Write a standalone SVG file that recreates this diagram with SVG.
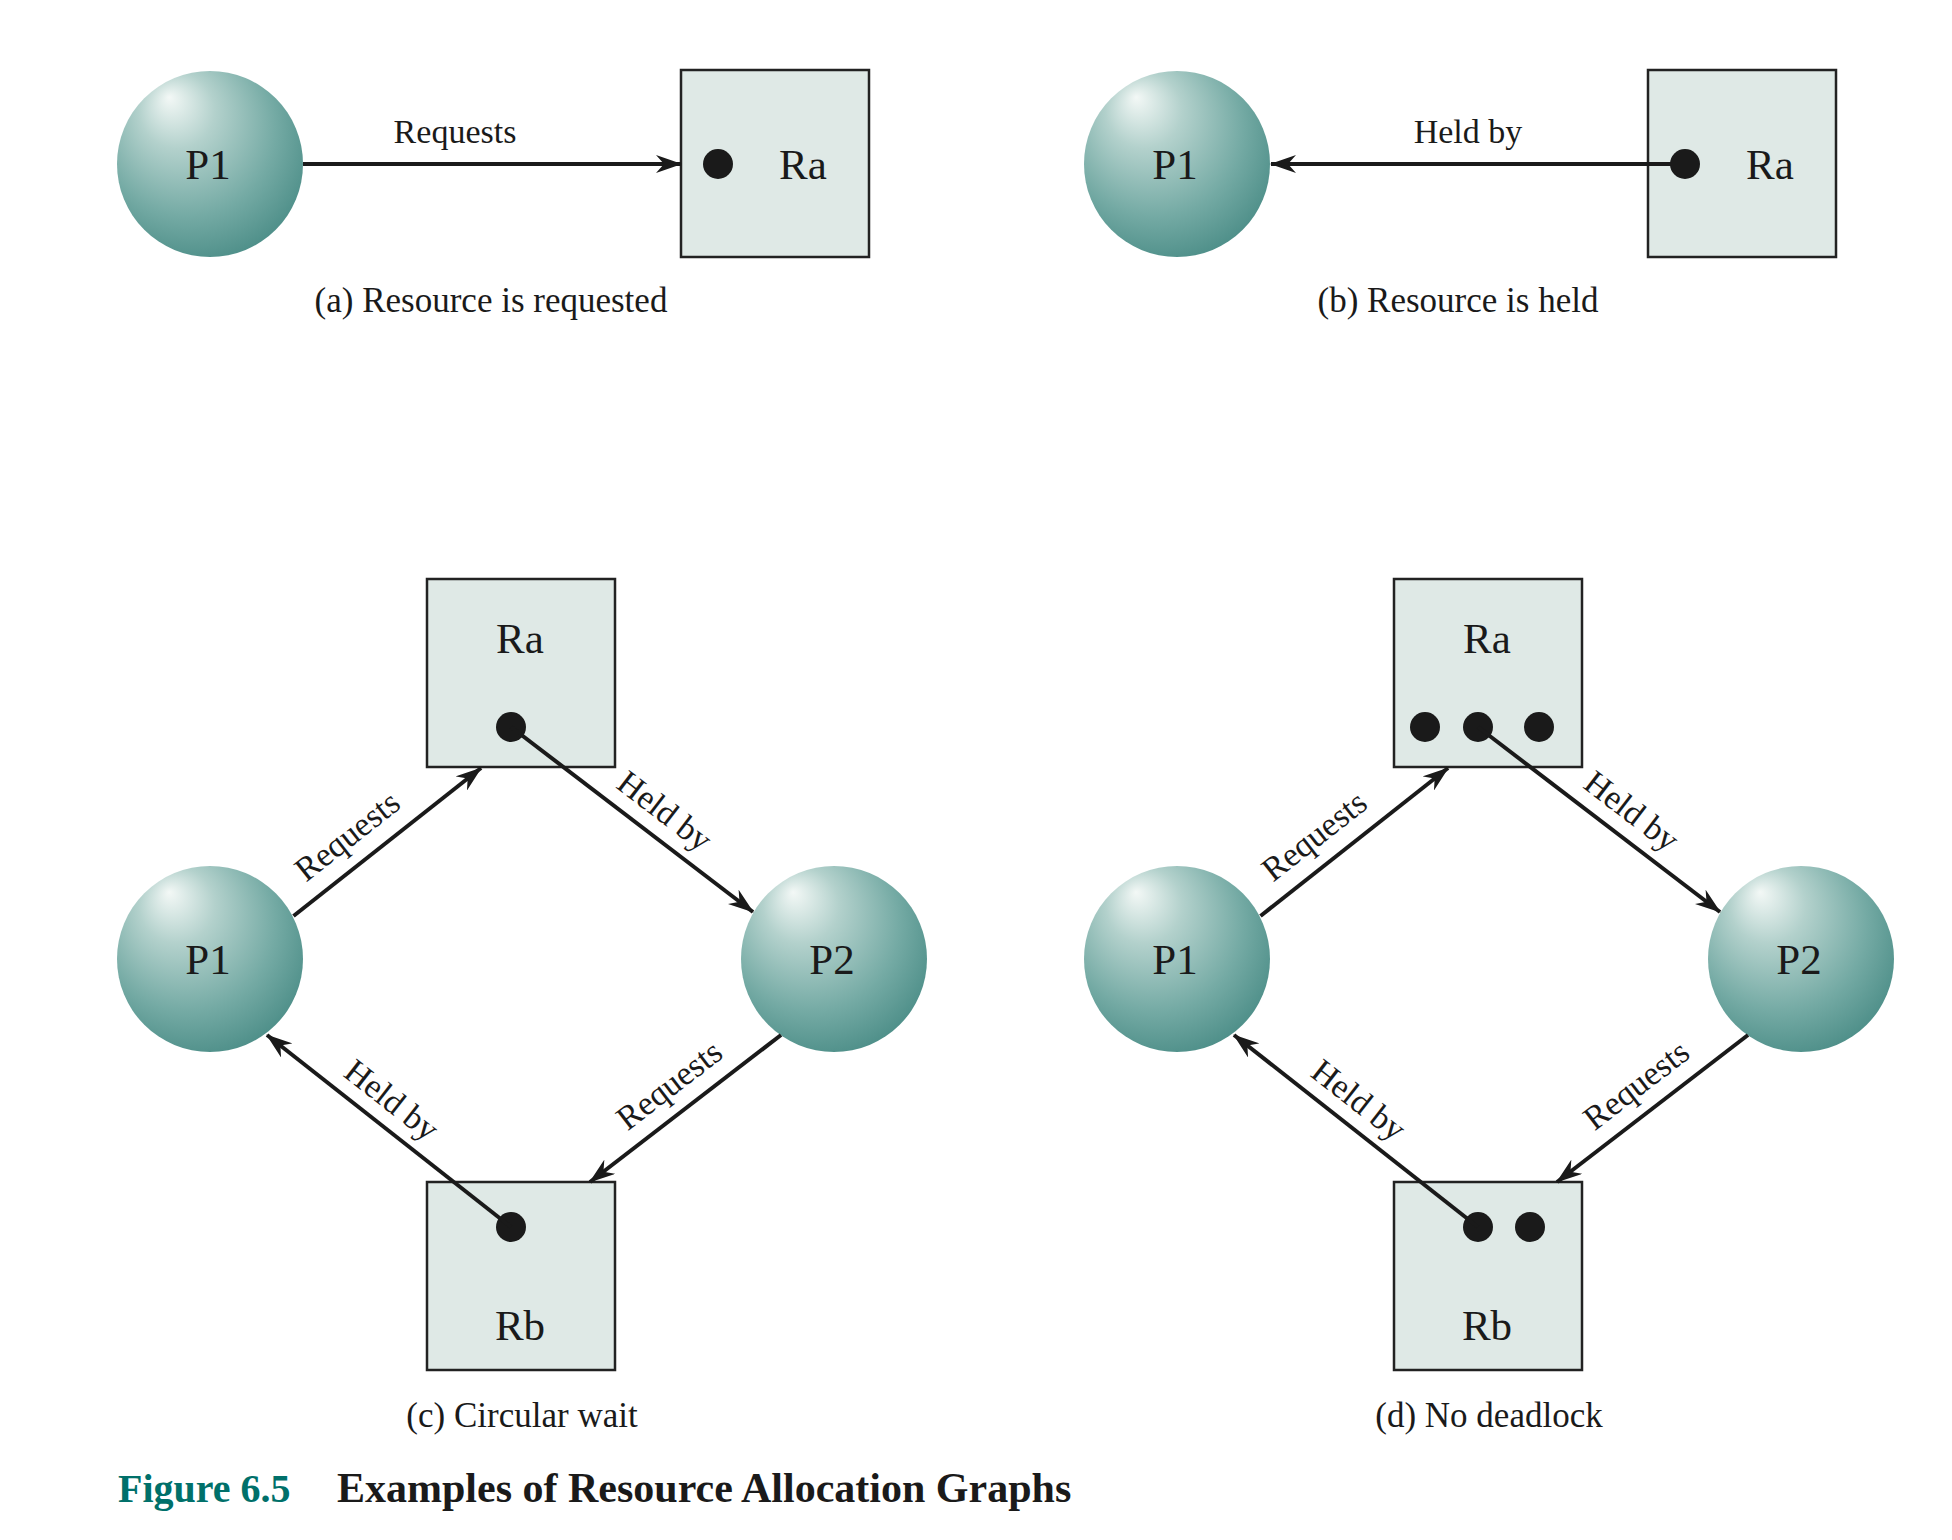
<svg xmlns="http://www.w3.org/2000/svg" width="1952" height="1540" viewBox="0 0 1952 1540">
<style>
text{font-family:"Liberation Serif","Times New Roman",serif;fill:#1a1a1a}
.node{font-size:43px;text-anchor:middle}
.lbl{font-size:34px;text-anchor:middle}
.cap{font-size:35px;text-anchor:middle}
.proc{fill:url(#ball)}
.res{fill:#dfe9e6;stroke:#222;stroke-width:2.5}
.dot{fill:#1a1a1a}
.edge{stroke:#1a1a1a;stroke-width:4;fill:none}
.arr{marker-end:url(#ah)}
.fig{font-size:40px;font-weight:bold}
</style>
<defs>
<radialGradient id="ball" cx="0.42" cy="0.38" r="0.68" fx="0.28" fy="0.14">
<stop offset="0" stop-color="#f3f8f6"/>
<stop offset="0.3" stop-color="#b3d1cc"/>
<stop offset="0.7" stop-color="#74aaa4"/>
<stop offset="1" stop-color="#4a8c86"/>
</radialGradient>
<marker id="ah" markerUnits="userSpaceOnUse" viewBox="0 0 26 18" refX="25" refY="9" markerWidth="26" markerHeight="18" orient="auto">
<path d="M0,0 L26,9 L0,18 L8,9 Z" fill="#1a1a1a"/>
</marker>
</defs>

<!-- Panel a -->
<g id="a-P1"><circle class="proc" cx="210" cy="164" r="93"/><text class="node" x="208" y="179">P1</text></g>
<g id="a-Ra"><rect class="res" x="681" y="70" width="188" height="187"/><circle class="dot" cx="718" cy="164" r="15"/><text class="node" x="803" y="179">Ra</text></g>

<!-- Panel b -->
<g id="b-P1"><circle class="proc" cx="1177" cy="164" r="93"/><text class="node" x="1175" y="179">P1</text></g>
<g id="b-Ra"><rect class="res" x="1648" y="70" width="188" height="187"/><circle class="dot" cx="1685" cy="164" r="15"/><text class="node" x="1770" y="179">Ra</text></g>

<!-- Panel c -->
<g id="c-Ra"><rect class="res" x="427" y="579" width="188" height="188"/><circle class="dot" cx="511" cy="727" r="15"/><text class="node" x="520" y="653">Ra</text></g>
<g id="c-P1"><circle class="proc" cx="210" cy="959" r="93"/><text class="node" x="208" y="974">P1</text></g>
<g id="c-P2"><circle class="proc" cx="834" cy="959" r="93"/><text class="node" x="832" y="974">P2</text></g>
<g id="c-Rb"><rect class="res" x="427" y="1182" width="188" height="188"/><circle class="dot" cx="511" cy="1227" r="15"/><text class="node" x="520" y="1340">Rb</text></g>

<!-- Panel d -->
<g id="d-Ra"><rect class="res" x="1394" y="579" width="188" height="188"/><circle class="dot" cx="1425" cy="727" r="15"/><circle class="dot" cx="1478" cy="727" r="15"/><circle class="dot" cx="1539" cy="727" r="15"/><text class="node" x="1487" y="653">Ra</text></g>
<g id="d-P1"><circle class="proc" cx="1177" cy="959" r="93"/><text class="node" x="1175" y="974">P1</text></g>
<g id="d-P2"><circle class="proc" cx="1801" cy="959" r="93"/><text class="node" x="1799" y="974">P2</text></g>
<g id="d-Rb"><rect class="res" x="1394" y="1182" width="188" height="188"/><circle class="dot" cx="1478" cy="1227" r="15"/><circle class="dot" cx="1530" cy="1227" r="15"/><text class="node" x="1487" y="1340">Rb</text></g>

<g id="connectors">
<!-- a -->
<line class="edge arr" x1="303" y1="164" x2="681" y2="164"/>
<!-- b -->
<line class="edge arr" x1="1685" y1="164" x2="1271" y2="164"/>
<!-- c -->
<line class="edge arr" x1="293.5" y1="916" x2="481" y2="768"/>
<line class="edge arr" x1="511" y1="727" x2="753" y2="912"/>
<line class="edge arr" x1="781" y1="1035" x2="590" y2="1182"/>
<line class="edge arr" x1="511" y1="1227" x2="267" y2="1035"/>
<!-- d -->
<line class="edge arr" x1="1260.5" y1="916" x2="1448" y2="768"/>
<line class="edge arr" x1="1478" y1="727" x2="1720" y2="912"/>
<line class="edge arr" x1="1748" y1="1035" x2="1557" y2="1182"/>
<line class="edge arr" x1="1478" y1="1227" x2="1234" y2="1035"/>
</g>

<g id="edge-labels">
<text class="lbl" x="455" y="143">Requests</text>
<text class="lbl" x="1468" y="143">Held by</text>
<text class="lbl" transform="translate(348 837) rotate(-38.2)" y="10">Requests</text>
<text class="lbl" transform="translate(664 812) rotate(37.4)" y="10">Held by</text>
<text class="lbl" transform="translate(670 1086) rotate(-37.6)" y="10">Requests</text>
<text class="lbl" transform="translate(391 1101) rotate(38)" y="10">Held by</text>
<text class="lbl" transform="translate(1315 837) rotate(-38.2)" y="10">Requests</text>
<text class="lbl" transform="translate(1631 812) rotate(37.4)" y="10">Held by</text>
<text class="lbl" transform="translate(1637 1086) rotate(-37.6)" y="10">Requests</text>
<text class="lbl" transform="translate(1358 1101) rotate(38)" y="10">Held by</text>
</g>

<g id="captions">
<text class="cap" x="491" y="312">(a) Resource is requested</text>
<text class="cap" x="1458" y="312">(b) Resource is held</text>
<text class="cap" x="522" y="1427">(c) Circular wait</text>
<text class="cap" x="1489" y="1427">(d) No deadlock</text>
</g>

<g id="title">
<text class="fig" x="118" y="1502" style="fill:#00706a">Figure 6.5</text>
<text class="fig" x="337" y="1502" style="font-size:42px">Examples of Resource Allocation Graphs</text>
</g>
</svg>
